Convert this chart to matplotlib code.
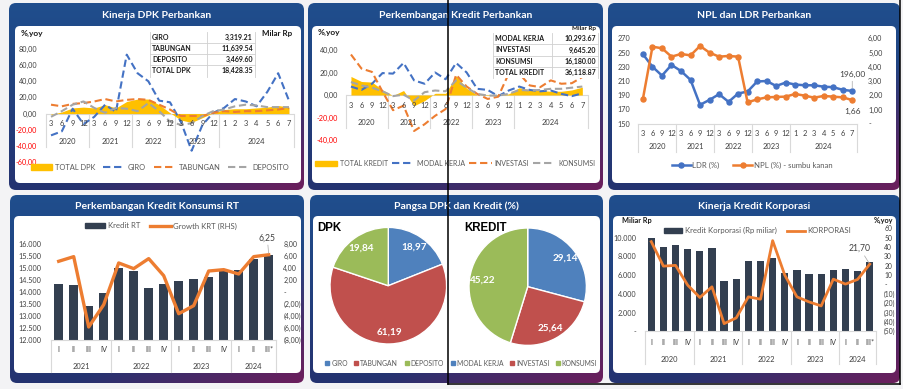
import numpy as np
import matplotlib
matplotlib.use('Agg')
import matplotlib.pyplot as plt
from matplotlib import transforms
from matplotlib.patches import FancyBboxPatch, Patch, Rectangle
from matplotlib.lines import Line2D

plt.rcParams['font.family'] = ['Lato', 'DejaVu Sans']

# ---------------- data ----------------
month_labels = ['3', '6', '9', '12'] * 4 + ['1', '2', '3', '4', '5', '6', '7']
month_groups = [('2020', 4), ('2021', 4), ('2022', 4), ('2023', 4), ('2024', 7)]

dpk_total = [-1, 2, 7, 8, 7, 11, 7, 15, 18, 18, 11, 1, -8, -11, -5, 1, 5, 6, 6, 7, 8, 10, 8]
dpk_giro = [-27, -22, 6, -13, -4, 11, 2, 73, 50, 40, 16, 14, -10, -46, -14, 1, 7, 18, 15, 9, 27, 50, 16]
dpk_tabungan = [11, 9, 12, 13, 15, 18, 15, 17, 18, 17, 11, 5, -3, -3, -3, 1, 3, 2, 3, 3, 4, 5, 7]
dpk_deposito = [-4, 3, 11, 15, 7, 1, 7, 6, 3, 13, 3, -10, -14, -12, -3, 3, 5, 9, 11, 10, 8, 8, 8]
dpk_table_names = ['GIRO', 'TABUNGAN', 'DEPOSITO', 'TOTAL DPK']
dpk_table_values = ['3,319.21', '11,639.54', '3,469.60', '18,428.35']

kredit_total = [16.5, 12, 11.5, 4.5, -0.5, 4, -9.5, -5, 1.5, 1.5, 17, 6, 0, -0.5, -0.5, 1, 6.5, 4.5, 4, 3.3, 3.3, 4.5, 7]
kredit_modal_kerja = [7.5, 4.5, 10, 19.5, 19, 28.5, 13, 10, 20, 14, 28.5, 20, 5.5, 4.5, -1, 4, 7.5, 4.5, 3.3, 4, 1, -1, 1.5]
kredit_investasi = [36, 23.5, 20.5, 3, -13.5, -9.5, -32, -26, -18.5, -12.5, 18, 7.5, 1, -3.5, -1.5, 19, 19, 8.5, 7, 13, 10, 10.5, 16]
kredit_konsumsi = [11.5, 8.5, 6.5, 3.3, -1, 0.3, -5, 2.5, 4, 3.3, 13, 6.5, 1, -0.5, -0.5, 1, 4.5, 4, 4.5, 5.5, 5.5, 6.5, 7.5]
kredit_table_names = ['MODAL KERJA', 'INVESTASI', 'KONSUMSI', 'TOTAL KREDIT']
kredit_table_values = ['10,293.67', '9,645.20', '16,180.00', '36,118.87']

ldr = [247.6, 230.0, 217.6, 232.6, 224.0, 211.6, 176.5, 183.5, 191.5, 180.7, 192.4, 195.2,
       209.3, 210.0, 203.0, 207.8, 205.0, 204.0, 204.0, 202.0, 201.3, 197.6, 196.0]
npl = [1.76, 5.41, 5.30, 4.71, 4.90, 4.80, 5.46, 4.99, 4.71, 4.76, 4.71, 1.50,
       1.71, 1.85, 1.88, 1.90, 2.09, 1.97, 1.83, 1.95, 1.90, 1.85, 1.66]

rt_labels = ['I', 'II', 'III', 'IV'] * 3 + ['I', 'II', 'III*']
rt_groups = [('2021', 4), ('2022', 4), ('2023', 4), ('2024', 3)]
kredit_rt = [14336, 14310, 13430, 13960, 15000, 14900, 14170, 14340, 14475, 14545, 14640, 14870, 14920, 15400, 15570]
growth_krt = [5.15, 5.93, -5.87, -2.13, 4.87, 3.92, 5.60, 2.74, -3.64, -2.29, 3.52, 3.75, 3.02, 5.93, 6.25]

pie_dpk_names = ['GIRO', 'TABUNGAN', 'DEPOSITO']
pie_dpk_values = [18.97, 61.19, 19.84]
pie_kredit_names = ['MODAL KERJA', 'INVESTASI', 'KONSUMSI']
pie_kredit_values = [29.14, 25.64, 45.22]

korp_labels = ['I', 'II', 'III', 'IV'] * 4 + ['I', 'II', 'III*']
korp_groups = [('2020', 4), ('2021', 4), ('2022', 4), ('2023', 4), ('2024', 3)]
kredit_korporasi = [10000, 9000, 9180, 8750, 8570, 8860, 5320, 5610, 7500, 7460, 7820, 6180,
                    6540, 6070, 6070, 6540, 6610, 6430, 7390]
growth_korporasi = [45.7, 19.6, 20.4, -0.7, -13.9, -2.5, -41.8, -35.7, -13.2, -15.7, 46.8, 10.0,
                    -13.2, -18.6, -22.9, 5.7, 0.4, 5.4, 21.7]

# ---------------- styling ----------------
BLUE, ORANGE, GRAY, YELLOW = '#4472C4', '#ED7D31', '#A5A5A5', '#FFC000'
BAR = '#333F50'
PIE_COLS = ['#4F81BD', '#C0504D', '#9BBB59']
TXT = '#404040'
LEG = '#595959'
SEP = '#D9D9D9'

W, H = 904, 389
fig = plt.figure(figsize=(W / 100, H / 100), dpi=100)
fig.patch.set_facecolor('#F3F3F5')


def box(x0, y0, x1, y1):
    return [x0 / W, 1 - y1 / H, (x1 - x0) / W, (y1 - y0) / H]


bg = fig.add_axes([0, 0, 1, 1], zorder=-5)
bg.axis('off')

top_c = np.array([0x1F, 0x4E, 0x8D]) / 255
bot_c = np.array([0x25, 0x33, 0x70]) / 255
pur_c = np.array([0x6C, 0x1E, 0x5C]) / 255


def gradient(nx=160, ny=100):
    xx, yy = np.meshgrid(np.linspace(0, 1, nx), np.linspace(0, 1, ny))
    base = top_c[None, None, :] * (1 - yy[..., None]) + bot_c[None, None, :] * yy[..., None]
    t = np.clip((xx * 0.7 + yy * 0.8 - 0.95) / 0.55, 0, 1)[..., None]
    return base * (1 - t) + pur_c * t


def frame(outer, inner, title):
    x0, y0, x1, y1 = outer
    p = FancyBboxPatch((x0, y0), x1 - x0, y1 - y0, boxstyle='round,pad=0,rounding_size=7',
                       transform=bg.transData, facecolor='none', edgecolor='none')
    bg.add_patch(p)
    im = bg.imshow(gradient(), extent=(x0, x1, y1, y0), origin='upper', aspect='auto',
                   interpolation='bilinear', zorder=1)
    im.set_clip_path(p)
    ix0, iy0, ix1, iy1 = inner
    bg.add_patch(FancyBboxPatch((ix0, iy0), ix1 - ix0, iy1 - iy0, boxstyle='round,pad=0,rounding_size=5',
                                transform=bg.transData, facecolor='white', edgecolor='none', zorder=2))
    bg.text((x0 + x1) / 2, (y0 + iy0) / 2 + 0.5, title, color='white', fontsize=7.5, fontweight='bold',
            ha='center', va='center', zorder=3)


frame((9, 3, 304, 190), (15, 26, 301, 183), 'Kinerja DPK Perbankan')
frame((308, 3, 603, 190), (312, 26, 600, 183), 'Perkembangan Kredit Perbankan')
frame((608, 3, 900, 190), (612, 26, 896, 183), 'NPL dan LDR Perbankan')
frame((10, 195, 304, 383), (14, 216, 301, 373), 'Perkembangan Kredit Konsumsi RT')
frame((310, 195, 603, 383), (313, 216, 600, 373), 'Pangsa DPK dan Kredit (%)')
frame((609, 195, 900, 383), (613, 216, 896, 373), 'Kinerja Kredit Korporasi')
bg.set_xlim(0, W)
bg.set_ylim(H, 0)

ov = fig.add_axes([0, 0, 1, 1], zorder=10)
ov.set_xlim(0, W)
ov.set_ylim(H, 0)
ov.axis('off')


def clean(ax):
    ax.set_facecolor('none')
    for s in ax.spines.values():
        s.set_visible(False)
    ax.set_xticks([])


def cat_axis(ax, bx, labels, groups, y_lab, y_grp, y_sep0, y_sep1, fs=5.4):
    x0, y0, x1, y1 = bx
    tr = transforms.blended_transform_factory(ax.transData, ax.transAxes)
    f = lambda py: (y1 - py) / (y1 - y0)
    for i, l in enumerate(labels):
        ax.text(i, f(y_lab), l, transform=tr, ha='center', va='center', fontsize=fs, color=TXT, clip_on=False)
    pos = 0
    seps = [-0.5]
    for name, cnt in groups:
        ax.text(pos + (cnt - 1) / 2, f(y_grp), name, transform=tr, ha='center', va='center',
                fontsize=fs, color=TXT, clip_on=False)
        pos += cnt
        seps.append(pos - 0.5)
    for s in seps:
        ax.plot([s, s], [f(y_sep0), f(y_sep1)], transform=tr, color=SEP, lw=0.8, clip_on=False, zorder=0)


def c2(v):
    return f'{v:.2f}'.replace('.', ',')


def table(names, values, x0, xm, x1, y0, rh, fs=5.0):
    n = len(names)
    ov.add_patch(Rectangle((x0, y0), x1 - x0, rh * n, facecolor='white', edgecolor='none', zorder=1))
    for i, (nm, v) in enumerate(zip(names, values)):
        yc = y0 + (i + 0.5) * rh
        ov.text(x0 + 2, yc, nm, ha='left', va='center', fontsize=fs, fontweight='bold', color='#1A1A1A', zorder=3)
        ov.text(x1 - 2, yc, v, ha='right', va='center', fontsize=fs, fontweight='bold', color='#1A1A1A', zorder=3)
    for i in range(1, n):
        ov.plot([x0, x1], [y0 + i * rh] * 2, color='#D0D0D0', lw=0.6, zorder=2)
    for xx in (x0, xm, x1):
        ov.plot([xx, xx], [y0, y0 + rh * n], color='#D0D0D0', lw=0.6, zorder=2)


def legend(ax, handles, labels, cx, cy, fs=5.4, **kw):
    lg = ax.legend(handles, labels, loc='center', bbox_to_anchor=(cx / W, 1 - cy / H),
                   bbox_transform=fig.transFigure, ncol=len(labels), frameon=False, fontsize=fs,
                   labelcolor=LEG, borderpad=0, **kw)
    return lg


dash = (3.5, 1.8)

# ---------------- Panel 1: DPK ----------------
b1 = (45.6, 49, 294.4, 162)
ax1 = fig.add_axes(box(*b1))
clean(ax1)
x = np.arange(len(month_labels))
ax1.fill_between(x, 0, dpk_total, color=YELLOW, lw=0, zorder=1)
ax1.plot(x, dpk_giro, color=BLUE, lw=1.5, dashes=dash, zorder=3)
ax1.plot(x, dpk_tabungan, color=ORANGE, lw=1.5, dashes=dash, zorder=3)
ax1.plot(x, dpk_deposito, color=GRAY, lw=1.5, dashes=dash, zorder=3)
ax1.set_xlim(-0.5, len(x) - 0.5)
ax1.set_ylim(-60, 80)
t1 = np.arange(-60, 81, 20)
ax1.set_yticks(t1)
ax1.set_yticklabels([c2(t) for t in t1], fontsize=5.2)
for lab, t in zip(ax1.get_yticklabels(), t1):
    lab.set_color('#FF0000' if t < 0 else TXT)
ax1.tick_params(axis='y', length=0, pad=6)
ax1.axhline(0, color=SEP, lw=0.8, zorder=0)
cat_axis(ax1, b1, month_labels, month_groups, 124, 141, 113.6, 147)
table(dpk_table_names, dpk_table_values, 150, 207, 255, 31.7, 11.2)
ov.text(277, 33, 'Milar Rp', ha='center', va='center', fontsize=5.8, fontweight='bold', color='#1A1A1A')
ov.text(21, 33, '%,yoy', ha='left', va='center', fontsize=6, fontweight='bold', color='#1A1A1A')
legend(ax1, [Patch(color=YELLOW), Line2D([], [], color=BLUE, lw=1.5, dashes=dash),
             Line2D([], [], color=ORANGE, lw=1.5, dashes=dash), Line2D([], [], color=GRAY, lw=1.5, dashes=dash)],
       ['TOTAL DPK', 'GIRO', 'TABUNGAN', 'DEPOSITO'], 160, 167, handlelength=2.9, handletextpad=0.4,
       columnspacing=1.0, handleheight=0.9)

# ---------------- Panel 2: Kredit ----------------
b2 = (345.7, 50, 587.6, 140)
ax2 = fig.add_axes(box(*b2))
clean(ax2)
ax2.fill_between(x, 0, kredit_total, color=YELLOW, lw=0, zorder=1)
ax2.plot(x, kredit_modal_kerja, color=BLUE, lw=1.5, dashes=dash, zorder=3)
ax2.plot(x, kredit_investasi, color=ORANGE, lw=1.5, dashes=dash, zorder=3)
ax2.plot(x, kredit_konsumsi, color=GRAY, lw=1.5, dashes=dash, zorder=3)
ax2.set_xlim(-0.5, len(x) - 0.5)
ax2.set_ylim(-40, 40)
t2 = np.arange(-40, 41, 20)
ax2.set_yticks(t2)
ax2.set_yticklabels([c2(t) for t in t2], fontsize=5.2)
for lab, t in zip(ax2.get_yticklabels(), t2):
    lab.set_color('#FF0000' if t < 0 else TXT)
ax2.tick_params(axis='y', length=0, pad=5.5)
ax2.axhline(0, color=SEP, lw=0.8, zorder=0)
cat_axis(ax2, b2, month_labels, month_groups, 106, 122.7, 95, 128)
table(kredit_table_names, kredit_table_values, 493, 552, 598, 33.3, 11.1)
ov.text(596, 28.5, 'Milar Rp', ha='right', va='center', fontsize=4.6, fontweight='bold', color='#1A1A1A')
ov.text(318, 32, '%,yoy', ha='left', va='center', fontsize=6, fontweight='bold', color='#1A1A1A')
legend(ax2, [Patch(color=YELLOW), Line2D([], [], color=BLUE, lw=1.5, dashes=dash),
             Line2D([], [], color=ORANGE, lw=1.5, dashes=dash), Line2D([], [], color=GRAY, lw=1.5, dashes=dash)],
       ['TOTAL KREDIT', 'MODAL KERJA', 'INVESTASI', 'KONSUMSI'], 455, 163.5, fs=5.0, handlelength=3.2,
       handletextpad=0.4, columnspacing=0.6, handleheight=0.9)

# ---------------- Panel 3: NPL & LDR ----------------
b3 = (638.2, 38.3, 857, 123.7)
ax3 = fig.add_axes(box(*b3))
clean(ax3)
ax3.plot(x, ldr, color=BLUE, lw=1.8, marker='o', ms=3.6, zorder=3)
ax3.set_xlim(-0.5, len(x) - 0.5)
ax3.set_ylim(150, 270)
t3 = np.arange(150, 271, 20)
ax3.set_yticks(t3)
ax3.set_yticklabels([str(t) for t in t3], fontsize=5.2, color=TXT)
ax3.tick_params(axis='y', length=0, pad=6)
ax3.spines['bottom'].set_visible(True)
ax3.spines['bottom'].set_color(SEP)
ax3.spines['bottom'].set_linewidth(0.8)
ax3r = ax3.twinx()
clean(ax3r)
ax3r.plot(x, npl, color=ORANGE, lw=1.8, marker='o', ms=3.6, zorder=3)
ax3r.set_ylim(0, 6)
t3r = np.arange(0, 7, 1)
ax3r.set_yticks(t3r)
ax3r.set_yticklabels(['-' if t == 0 else c2(t) for t in t3r], fontsize=5.2, color=TXT)
ax3r.tick_params(axis='y', length=0, pad=8)
cat_axis(ax3, b3, month_labels, month_groups, 134, 147, 123.7, 152)
ax3.annotate(c2(ldr[-1]), xy=(len(x) - 1, ldr[-1]), xytext=(0, 9), textcoords='offset points',
             ha='center', va='bottom', fontsize=6, color=TXT,
             arrowprops=dict(arrowstyle='-', color='#A6A6A6', lw=0.5, shrinkA=0, shrinkB=2))
ax3r.annotate(c2(npl[-1]), xy=(len(x) - 1, npl[-1]), xytext=(0, -6), textcoords='offset points',
              ha='center', va='top', fontsize=6, color=TXT)
legend(ax3r, [Line2D([], [], color=BLUE, lw=1.8, marker='o', ms=3.6),
              Line2D([], [], color=ORANGE, lw=1.8, marker='o', ms=3.6)],
       ['LDR (%)', 'NPL (%) - sumbu kanan'], 752, 165.5, fs=5.6, handlelength=2.4,
       handletextpad=0.2, columnspacing=1.8)

# ---------------- Panel 4: Kredit Konsumsi RT ----------------
b4 = (51.2, 244.3, 276.2, 339.7)
ax4 = fig.add_axes(box(*b4))
clean(ax4)
xq = np.arange(len(rt_labels))
ax4.bar(xq, kredit_rt, width=0.62, color=BAR, zorder=2)
ax4.set_xlim(-0.5, len(xq) - 0.5)
ax4.set_ylim(12000, 16000)
t4 = np.arange(12000, 16001, 500)
ax4.set_yticks(t4)
ax4.set_yticklabels([f'{t:,}'.replace(',', '.') for t in t4], fontsize=5.2, color=TXT)
ax4.tick_params(axis='y', length=0, pad=7)
ax4.spines['bottom'].set_visible(True)
ax4.spines['bottom'].set_color(SEP)
ax4r = ax4.twinx()
clean(ax4r)
ax4r.plot(xq, growth_krt, color=ORANGE, lw=2.4, zorder=3, solid_joinstyle='round')
ax4r.set_ylim(-8, 8)
t4r = np.arange(-8, 9, 2)
ax4r.set_yticks(t4r)
ax4r.set_yticklabels(['-' if t == 0 else (f'({c2(-t)})' if t < 0 else c2(t)) for t in t4r],
                     fontsize=5.0, color=TXT)
ax4r.tick_params(axis='y', length=0, pad=5)
cat_axis(ax4, b4, rt_labels, rt_groups, 350, 366.7, 339.7, 371.7)
ax4r.annotate(c2(growth_krt[-1]), xy=(len(xq) - 1, growth_krt[-1]), xytext=(-1, 9), textcoords='offset points',
              ha='center', va='bottom', fontsize=6.2, color=TXT,
              arrowprops=dict(arrowstyle='-', color='#A6A6A6', lw=0.5, shrinkA=0, shrinkB=1))
legend(ax4r, [Patch(color=BAR), Line2D([], [], color=ORANGE, lw=2.4)],
       ['Kredit RT', 'Growth KRT (RHS)'], 161, 226, fs=5.6, handlelength=2.6,
       handletextpad=0.3, columnspacing=1.3, handleheight=0.6)

# ---------------- Panel 5: Pies ----------------
axp1 = fig.add_axes(box(330, 227.4, 446.6, 344))
axp2 = fig.add_axes(box(469, 228, 586.4, 345.4))
for axp, vals, title, tx in ((axp1, pie_dpk_values, 'DPK', 317), (axp2, pie_kredit_values, 'KREDIT', 464)):
    wedges, texts = axp.pie(vals, colors=PIE_COLS, startangle=90, counterclock=False,
                            labels=[c2(v) for v in vals], labeldistance=0.8,
                            wedgeprops=dict(edgecolor='white', linewidth=1.0),
                            textprops=dict(color='white', fontsize=7.2, fontweight='bold'))
    for t in texts:
        t.set_ha('center')
        t.set_va('center')
        t.set_clip_on(False)
        t.set_zorder(5)
    axp.set_xlim(-1, 1)
    axp.set_ylim(-1, 1)
    axp.set_aspect('equal')
    axp.axis('off')
    ov.text(tx, 228, title, ha='left', va='center', fontsize=8.3, fontweight='bold',
            family='Liberation Sans', color='black')
pie_handles = [Line2D([], [], marker='s', ls='none', ms=2.8, color=c) for c in PIE_COLS * 2]
legend(axp2, pie_handles, pie_dpk_names + pie_kredit_names, 461, 363.3, fs=4.9,
       handlelength=0.7, handletextpad=0.25, columnspacing=0.9)

# ---------------- Panel 6: Korporasi ----------------
b6 = (645.2, 228.3, 875.8, 331.3)
ax6 = fig.add_axes(box(*b6))
clean(ax6)
xk = np.arange(len(korp_labels))
ax6.bar(xk, kredit_korporasi, width=0.6, color=BAR, zorder=2)
ax6.set_xlim(-0.5, len(xk) - 0.5)
ax6.set_ylim(0, 11000)
t6 = np.arange(0, 10001, 2000)
ax6.set_yticks(t6)
ax6.set_yticklabels(['-' if t == 0 else f'{t:,}'.replace(',', '.') for t in t6], fontsize=5.2, color=TXT)
ax6.tick_params(axis='y', length=0, pad=6.5)
ax6.spines['bottom'].set_visible(True)
ax6.spines['bottom'].set_color(SEP)
ax6r = ax6.twinx()
clean(ax6r)
ax6r.plot(xk, growth_korporasi, color=ORANGE, lw=2.0, zorder=3)
ax6r.set_ylim(-50, 60)
t6r = np.arange(-50, 61, 10)
ax6r.set_yticks(t6r)
ax6r.set_yticklabels(['-' if t == 0 else (f'({-t})' if t < 0 else str(t)) for t in t6r],
                     fontsize=4.9, color=TXT)
ax6r.tick_params(axis='y', length=0, pad=6)
cat_axis(ax6, b6, korp_labels, korp_groups, 342.7, 359.3, 331.3, 364)
ax6r.annotate(c2(growth_korporasi[-1]), xy=(len(xk) - 1, growth_korporasi[-1]), xytext=(-7, 8),
              textcoords='offset points', ha='center', va='bottom', fontsize=6.2, color=TXT,
              arrowprops=dict(arrowstyle='-', color='#A6A6A6', lw=0.5, shrinkA=0, shrinkB=1))
ov.text(622, 220.5, 'Miliar Rp', ha='left', va='center', fontsize=5.2, fontweight='bold', color='#1A1A1A')
ov.text(893, 220.5, '%,yoy', ha='right', va='center', fontsize=5.2, fontweight='bold', color='#1A1A1A')
legend(ax6r, [Patch(color=BAR), Line2D([], [], color=ORANGE, lw=2.0)],
       ['Kredit Korporasi (Rp miliar)', 'KORPORASI'], 757.5, 230.7, fs=5.6, handlelength=2.4,
       handletextpad=0.3, columnspacing=1.3, handleheight=0.6)

# ---------------- overlay selection rectangle ----------------
ov.plot([448, 448], [0, 384], color='black', lw=1.1, zorder=20)
ov.plot([448, 900], [384, 384], color='black', lw=1.1, zorder=20)
ov.plot([900, 900], [0, 384], color='black', lw=1.1, zorder=20)

fig.savefig('out.png', dpi=100, facecolor=fig.get_facecolor())
